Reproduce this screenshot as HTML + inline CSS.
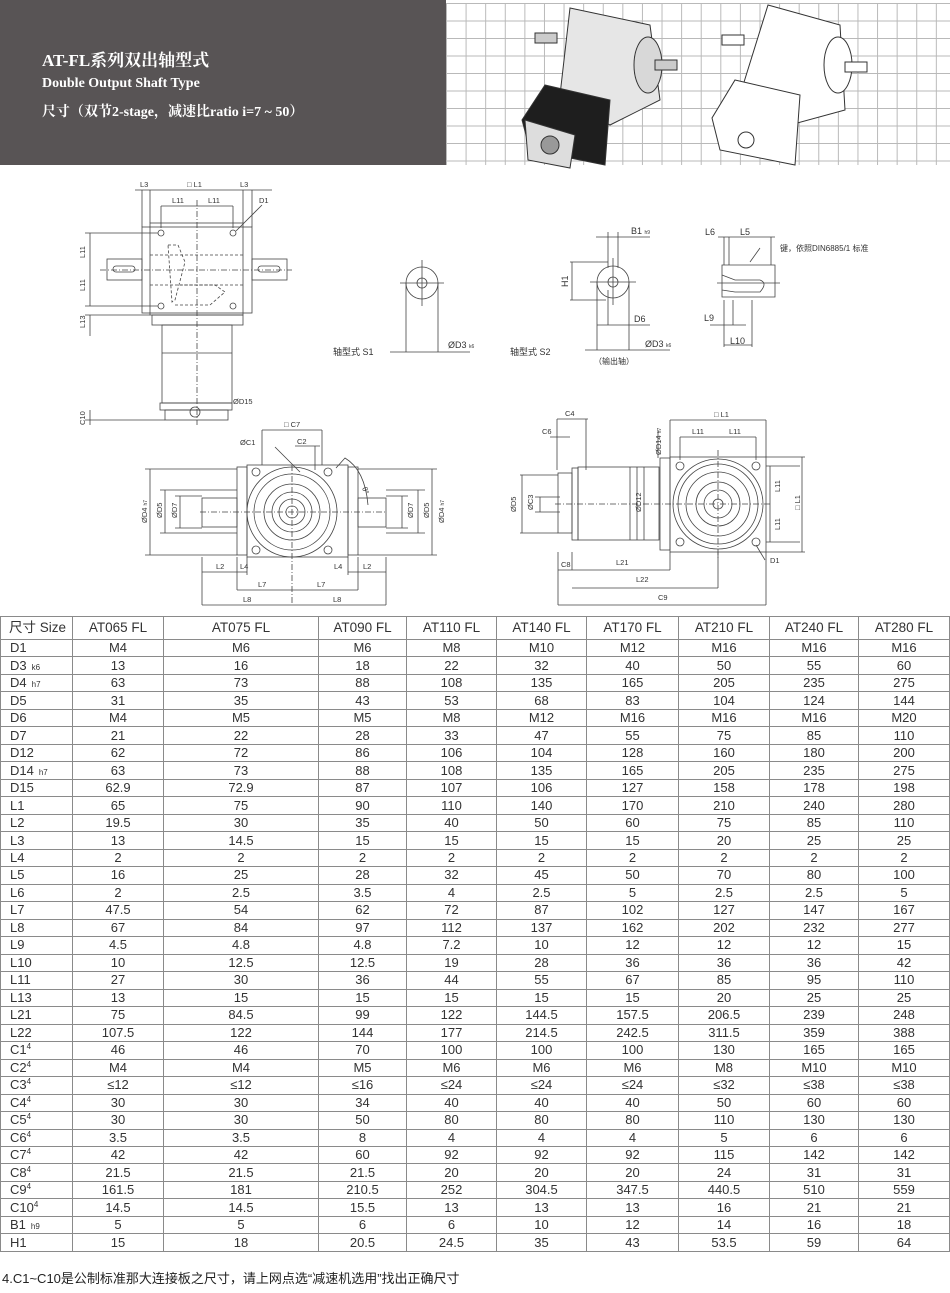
<!DOCTYPE html>
<html><head><meta charset="utf-8">
<style>
*{margin:0;padding:0;box-sizing:border-box}
body{width:950px;height:1293px;background:#fff;position:relative;overflow:hidden;font-family:"Liberation Sans","Noto Sans CJK SC",sans-serif;color:#333}
#hdr{position:absolute;left:0;top:0;width:446px;height:165px;background:#585455;color:#fff;font-family:"Liberation Serif","Noto Serif CJK SC",serif;font-weight:bold}
#hdr div{position:absolute;left:42px;white-space:nowrap}
#grid{position:absolute;left:446px;top:3px;width:504px;height:162px;
background-image:linear-gradient(to right,#b9b9b9 1px,transparent 1px),linear-gradient(to bottom,#b9b9b9 1px,transparent 1px);background-size:19.6px 17.5px;background-color:#fff}
svg{position:absolute;left:0;top:0}
table{position:absolute;left:0;top:616px;width:949px;height:636px;border-collapse:collapse;table-layout:fixed;font-size:13px}
td{border:1px solid #8a8a8a;text-align:center;height:16px;line-height:14px;padding:0;white-space:nowrap;overflow:hidden}
tr.h td{height:21px;font-size:13.5px}
td:first-child{text-align:left;padding-left:9px}
small{font-size:8px;margin-left:5px;line-height:0}
sup{font-size:8px;vertical-align:5px;line-height:0}
#foot{position:absolute;left:2px;top:1268px;font-size:13px;color:#222;white-space:nowrap}
</style></head><body>
<div id="hdr">
<div style="top:46px;font-size:17px">AT-FL系列双出轴型式</div>
<div style="top:76px;font-size:14px">Double Output Shaft Type</div>
<div style="top:101px;font-size:14px">尺寸（双节2-stage，减速比ratio i=7 ~ 50）</div>
</div>
<div id="grid"></div>
<svg width="950" height="615" viewBox="0 0 950 615" font-family="Liberation Sans, Noto Sans CJK SC, sans-serif" font-size="7.5" fill="#333">
<g stroke="#333" stroke-width="1">
<polygon points="570,8 650,25 660,100 610,125 560,95" fill="#e6e6e6"/>
<ellipse cx="648" cy="65" rx="14" ry="28" fill="#d8d8d8"/>
<rect x="655" y="60" width="22" height="10" fill="#ccc"/>
<rect x="535" y="33" width="22" height="10" fill="#ccc"/>
<polygon points="545,85 610,100 605,165 530,150 522,120" fill="#1e1e1e"/>
<polygon points="525,120 575,135 570,168 528,160" fill="#ddd"/>
<circle cx="550" cy="145" r="9" fill="#999"/>
<polygon points="768,5 840,25 845,110 790,125 740,95" fill="#fff"/>
<ellipse cx="838" cy="65" rx="14" ry="28" fill="#fff"/>
<rect x="845" y="62" width="22" height="10" fill="#fff"/>
<rect x="722" y="35" width="22" height="10" fill="#fff"/>
<polygon points="735,80 800,95 795,165 720,150 712,118" fill="#fff"/>
<circle cx="746" cy="140" r="8" fill="#fff"/>
</g>
<g stroke="#444" stroke-width="0.8" fill="none">
<rect x="142" y="227" width="110" height="86"/>
<rect x="150" y="223" width="93" height="92"/>
<rect x="107" y="259" width="35" height="21"/><rect x="252" y="259" width="35" height="21"/>
<rect x="113" y="266" width="22" height="6" rx="3"/><rect x="258" y="266" width="22" height="6" rx="3"/>
<rect x="152" y="315" width="91" height="10"/>
<rect x="162" y="325" width="70" height="78"/>
<line x1="162" y1="353" x2="232" y2="353"/>
<rect x="160" y="403" width="72" height="7"/><rect x="165" y="410" width="63" height="10"/>
<circle cx="195" cy="412" r="5"/>
<circle cx="161" cy="233" r="3"/><circle cx="233" cy="233" r="3"/><circle cx="161" cy="306" r="3"/><circle cx="233" cy="306" r="3"/>
<path d="M150 255 H243 M150 285 H243" stroke-dasharray="3 2"/>
<path d="M168 245 L178 245 L185 262 L175 300 L172 302 Z M175 305 L210 305 L225 292 L215 285 L180 285" stroke-dasharray="3 2"/>
<path d="M197 200 V425 M100 270 H292" stroke-dasharray="6 2 1 2"/>
<path d="M135 190 H272 M150 190 V223 M243 190 V223 M142 190 V227 M252 190 V227 M161 206 H233 M161 206 V228 M233 206 V228 M236 231 L262 205"/>
<path d="M85 233 H158 M85 306 H158 M90 233 V306 M85 315 H150 M90 315 V336 M85 420 H165 M90 410 V425"/>
<circle cx="422" cy="283" r="16"/><circle cx="422" cy="283" r="5"/>
<path d="M400 283 H444 M422 260 V306 M406 283 V352 M438 283 V352 M390 352 H470"/>
<circle cx="613" cy="282" r="16"/><circle cx="613" cy="282" r="5"/>
<path d="M590 282 H636 M613 258 V305 M608 232 V268 M618 232 V268 M596 237 H650 M570 262 H608 M570 300 H606 M572 262 V300 M597 282 V350 M629 282 V350 M597 325 H650 M608 290 V325 M585 350 H670"/>
<path d="M722 265 H775 V297 H722 Z M722 275 L735 280 H760 Q768 283 760 292 H735 L722 290"/>
<path d="M717 283 H780 M724 237 V265 M729 237 V265 M771 237 V265 M718 237 H775 M750 262 L760 248 M724 300 V347 M752 300 V347 M724 345 H752 M710 325 H746 M733 300 V325"/>
<rect x="247" y="465" width="101" height="92"/>
<rect x="237" y="467" width="10" height="88"/><rect x="348" y="467" width="10" height="88"/>
<rect x="202" y="498" width="35" height="29"/><rect x="358" y="498" width="28" height="29"/>
<circle cx="292" cy="512" r="45"/><circle cx="292" cy="512" r="38"/><circle cx="292" cy="512" r="28"/><circle cx="292" cy="512" r="20"/><circle cx="292" cy="512" r="13"/><circle cx="292" cy="512" r="6"/>
<circle cx="256" cy="472" r="4"/><circle cx="328" cy="472" r="4"/><circle cx="256" cy="550" r="4"/><circle cx="328" cy="550" r="4"/>
<path d="M200 512 H386 M292 465 V605" stroke-dasharray="6 2 1 2"/>
<path d="M145 469 H237 M145 555 H237 M150 469 V555 M160 490 H237 M160 533 H237 M165 490 V533 M175 496 H202 M175 528 H202 M180 496 V528"/>
<path d="M358 469 H437 M358 555 H437 M432 469 V555 M386 490 H425 M386 533 H425 M418 490 V533 M386 496 H408 M386 528 H408 M402 496 V528"/>
<path d="M202 557 V605 M237 557 V590 M247 557 V575 M348 557 V575 M358 557 V590 M386 557 V605 M202 572 H247 M348 572 H386 M237 590 H358 M202 605 H386"/>
<path d="M262 430 H322 M262 430 V465 M322 430 V465 M275 447 L300 472 M295 446 H320 M315 446 V470 M336 468 L345 458 Q365 470 368 505"/>
<rect x="670" y="457" width="96" height="95"/>
<rect x="660" y="458" width="10" height="92"/>
<rect x="578" y="467" width="81" height="73"/><rect x="572" y="468" width="6" height="72"/><rect x="558" y="473" width="14" height="60"/>
<line x1="630" y1="467" x2="630" y2="540"/><line x1="637" y1="467" x2="637" y2="540"/>
<circle cx="718" cy="504" r="45"/><circle cx="718" cy="504" r="40"/><circle cx="718" cy="504" r="32"/><circle cx="718" cy="504" r="22"/><circle cx="718" cy="504" r="14"/><circle cx="718" cy="504" r="5"/>
<circle cx="680" cy="466" r="4"/><circle cx="756" cy="466" r="4"/><circle cx="680" cy="542" r="4"/><circle cx="756" cy="542" r="4"/>
<path d="M555 504 H770 M718 450 V560" stroke-dasharray="6 2 1 2"/>
<path d="M557 419 H588 M557 419 V470 M586 419 V470 M550 437 H570 M670 420 V457 M766 420 V457 M670 420 H766 M680 437 H756 M680 437 V460 M756 437 V460 M658 430 V458"/>
<path d="M520 475 H558 M520 533 H558 M522 475 V533 M535 497 H560 M535 512 H560 M540 497 V512 M644 467 V540"/>
<path d="M766 466 H800 M766 542 H800 M770 466 V542 M766 457 H805 M766 552 H805 M802 457 V552 M756 545 L765 560"/>
<path d="M558 552 V605 M572 552 V570 M670 552 V570 M718 552 V588 M766 552 V605 M558 570 H572 M572 570 H670 M572 588 H718 M558 605 H766"/>
</g>
<g>
<text x="140" y="187">L3</text><text x="187" y="187">□ L1</text><text x="240" y="187">L3</text>
<text x="172" y="203">L11</text><text x="208" y="203">L11</text><text x="259" y="203">D1</text>
<text x="85" y="258" transform="rotate(-90 85 258)">L11</text><text x="85" y="291" transform="rotate(-90 85 291)">L11</text>
<text x="85" y="328" transform="rotate(-90 85 328)">L13</text><text x="85" y="425" transform="rotate(-90 85 425)">C10</text>
<text x="233" y="404">ØD15</text>
<text x="333" y="355" font-size="9">轴型式 S1</text><text x="448" y="348" font-size="9">ØD3 <tspan font-size="5">k6</tspan></text>
<text x="631" y="234" font-size="9">B1 <tspan font-size="5">h9</tspan></text><text x="568" y="287" font-size="9" transform="rotate(-90 568 287)">H1</text>
<text x="634" y="322" font-size="9">D6</text><text x="645" y="347" font-size="9">ØD3 <tspan font-size="5">k6</tspan></text>
<text x="510" y="355" font-size="9">轴型式 S2</text><text x="594" y="364" font-size="8">（输出轴）</text>
<text x="705" y="235" font-size="9">L6</text><text x="740" y="235" font-size="9">L5</text><text x="780" y="251" font-size="8">键，依照DIN6885/1 标准</text>
<text x="704" y="321" font-size="9">L9</text><text x="730" y="344" font-size="9">L10</text>
<text x="284" y="427">□ C7</text><text x="240" y="445">ØC1</text><text x="297" y="444">C2</text><text x="362" y="488" transform="rotate(70 362 488)">θ°</text>
<text x="147" y="523" transform="rotate(-90 147 523)">ØD4 <tspan font-size="5">h7</tspan></text><text x="162" y="518" transform="rotate(-90 162 518)">ØD5</text><text x="177" y="518" transform="rotate(-90 177 518)">ØD7</text>
<text x="413" y="518" transform="rotate(-90 413 518)">ØD7</text><text x="429" y="518" transform="rotate(-90 429 518)">ØD5</text><text x="444" y="523" transform="rotate(-90 444 523)">ØD4 <tspan font-size="5">h7</tspan></text>
<text x="216" y="569">L2</text><text x="240" y="569">L4</text><text x="334" y="569">L4</text><text x="363" y="569">L2</text>
<text x="258" y="587">L7</text><text x="317" y="587">L7</text><text x="243" y="602">L8</text><text x="333" y="602">L8</text>
<text x="565" y="416">C4</text><text x="542" y="434">C6</text><text x="714" y="417">□ L1</text><text x="692" y="434">L11</text><text x="729" y="434">L11</text>
<text x="661" y="455" transform="rotate(-90 661 455)">ØD14 <tspan font-size="5">h7</tspan></text><text x="516" y="512" transform="rotate(-90 516 512)">ØD5</text>
<text x="533" y="510" transform="rotate(-90 533 510)">ØC3</text><text x="641" y="512" transform="rotate(-90 641 512)">ØD12</text>
<text x="780" y="492" transform="rotate(-90 780 492)">L11</text><text x="780" y="530" transform="rotate(-90 780 530)">L11</text><text x="800" y="510" transform="rotate(-90 800 510)">□ L1</text>
<text x="561" y="567">C8</text><text x="616" y="565">L21</text><text x="636" y="582">L22</text><text x="658" y="600">C9</text><text x="770" y="563">D1</text>
</g>
</svg>
<table>
<colgroup><col style="width:72px"><col style="width:91px"><col style="width:155px"><col style="width:88px"><col style="width:90px"><col style="width:90px"><col style="width:92px"><col style="width:91px"><col style="width:89px"><col style="width:91px"></colgroup>
<tr class="h"><td style="padding-left:8px">尺寸 Size</td><td>AT065 FL</td><td>AT075 FL</td><td>AT090 FL</td><td>AT110 FL</td><td>AT140 FL</td><td>AT170 FL</td><td>AT210 FL</td><td>AT240 FL</td><td>AT280 FL</td></tr>
<tr><td>D1</td><td>M4</td><td>M6</td><td>M6</td><td>M8</td><td>M10</td><td>M12</td><td>M16</td><td>M16</td><td>M16</td></tr>
<tr><td>D3<small>k6</small></td><td>13</td><td>16</td><td>18</td><td>22</td><td>32</td><td>40</td><td>50</td><td>55</td><td>60</td></tr>
<tr><td>D4<small>h7</small></td><td>63</td><td>73</td><td>88</td><td>108</td><td>135</td><td>165</td><td>205</td><td>235</td><td>275</td></tr>
<tr><td>D5</td><td>31</td><td>35</td><td>43</td><td>53</td><td>68</td><td>83</td><td>104</td><td>124</td><td>144</td></tr>
<tr><td>D6</td><td>M4</td><td>M5</td><td>M5</td><td>M8</td><td>M12</td><td>M16</td><td>M16</td><td>M16</td><td>M20</td></tr>
<tr><td>D7</td><td>21</td><td>22</td><td>28</td><td>33</td><td>47</td><td>55</td><td>75</td><td>85</td><td>110</td></tr>
<tr><td>D12</td><td>62</td><td>72</td><td>86</td><td>106</td><td>104</td><td>128</td><td>160</td><td>180</td><td>200</td></tr>
<tr><td>D14<small>h7</small></td><td>63</td><td>73</td><td>88</td><td>108</td><td>135</td><td>165</td><td>205</td><td>235</td><td>275</td></tr>
<tr><td>D15</td><td>62.9</td><td>72.9</td><td>87</td><td>107</td><td>106</td><td>127</td><td>158</td><td>178</td><td>198</td></tr>
<tr><td>L1</td><td>65</td><td>75</td><td>90</td><td>110</td><td>140</td><td>170</td><td>210</td><td>240</td><td>280</td></tr>
<tr><td>L2</td><td>19.5</td><td>30</td><td>35</td><td>40</td><td>50</td><td>60</td><td>75</td><td>85</td><td>110</td></tr>
<tr><td>L3</td><td>13</td><td>14.5</td><td>15</td><td>15</td><td>15</td><td>15</td><td>20</td><td>25</td><td>25</td></tr>
<tr><td>L4</td><td>2</td><td>2</td><td>2</td><td>2</td><td>2</td><td>2</td><td>2</td><td>2</td><td>2</td></tr>
<tr><td>L5</td><td>16</td><td>25</td><td>28</td><td>32</td><td>45</td><td>50</td><td>70</td><td>80</td><td>100</td></tr>
<tr><td>L6</td><td>2</td><td>2.5</td><td>3.5</td><td>4</td><td>2.5</td><td>5</td><td>2.5</td><td>2.5</td><td>5</td></tr>
<tr><td>L7</td><td>47.5</td><td>54</td><td>62</td><td>72</td><td>87</td><td>102</td><td>127</td><td>147</td><td>167</td></tr>
<tr><td>L8</td><td>67</td><td>84</td><td>97</td><td>112</td><td>137</td><td>162</td><td>202</td><td>232</td><td>277</td></tr>
<tr><td>L9</td><td>4.5</td><td>4.8</td><td>4.8</td><td>7.2</td><td>10</td><td>12</td><td>12</td><td>12</td><td>15</td></tr>
<tr><td>L10</td><td>10</td><td>12.5</td><td>12.5</td><td>19</td><td>28</td><td>36</td><td>36</td><td>36</td><td>42</td></tr>
<tr><td>L11</td><td>27</td><td>30</td><td>36</td><td>44</td><td>55</td><td>67</td><td>85</td><td>95</td><td>110</td></tr>
<tr><td>L13</td><td>13</td><td>15</td><td>15</td><td>15</td><td>15</td><td>15</td><td>20</td><td>25</td><td>25</td></tr>
<tr><td>L21</td><td>75</td><td>84.5</td><td>99</td><td>122</td><td>144.5</td><td>157.5</td><td>206.5</td><td>239</td><td>248</td></tr>
<tr><td>L22</td><td>107.5</td><td>122</td><td>144</td><td>177</td><td>214.5</td><td>242.5</td><td>311.5</td><td>359</td><td>388</td></tr>
<tr><td>C1<sup>4</sup></td><td>46</td><td>46</td><td>70</td><td>100</td><td>100</td><td>100</td><td>130</td><td>165</td><td>165</td></tr>
<tr><td>C2<sup>4</sup></td><td>M4</td><td>M4</td><td>M5</td><td>M6</td><td>M6</td><td>M6</td><td>M8</td><td>M10</td><td>M10</td></tr>
<tr><td>C3<sup>4</sup></td><td>≤12</td><td>≤12</td><td>≤16</td><td>≤24</td><td>≤24</td><td>≤24</td><td>≤32</td><td>≤38</td><td>≤38</td></tr>
<tr><td>C4<sup>4</sup></td><td>30</td><td>30</td><td>34</td><td>40</td><td>40</td><td>40</td><td>50</td><td>60</td><td>60</td></tr>
<tr><td>C5<sup>4</sup></td><td>30</td><td>30</td><td>50</td><td>80</td><td>80</td><td>80</td><td>110</td><td>130</td><td>130</td></tr>
<tr><td>C6<sup>4</sup></td><td>3.5</td><td>3.5</td><td>8</td><td>4</td><td>4</td><td>4</td><td>5</td><td>6</td><td>6</td></tr>
<tr><td>C7<sup>4</sup></td><td>42</td><td>42</td><td>60</td><td>92</td><td>92</td><td>92</td><td>115</td><td>142</td><td>142</td></tr>
<tr><td>C8<sup>4</sup></td><td>21.5</td><td>21.5</td><td>21.5</td><td>20</td><td>20</td><td>20</td><td>24</td><td>31</td><td>31</td></tr>
<tr><td>C9<sup>4</sup></td><td>161.5</td><td>181</td><td>210.5</td><td>252</td><td>304.5</td><td>347.5</td><td>440.5</td><td>510</td><td>559</td></tr>
<tr><td>C10<sup>4</sup></td><td>14.5</td><td>14.5</td><td>15.5</td><td>13</td><td>13</td><td>13</td><td>16</td><td>21</td><td>21</td></tr>
<tr><td>B1<small>h9</small></td><td>5</td><td>5</td><td>6</td><td>6</td><td>10</td><td>12</td><td>14</td><td>16</td><td>18</td></tr>
<tr><td>H1</td><td>15</td><td>18</td><td>20.5</td><td>24.5</td><td>35</td><td>43</td><td>53.5</td><td>59</td><td>64</td></tr>
</table>
<div id="foot">4.C1~C10是公制标准那大连接板之尺寸，请上网点选“减速机选用”找出正确尺寸</div>
</body></html>
